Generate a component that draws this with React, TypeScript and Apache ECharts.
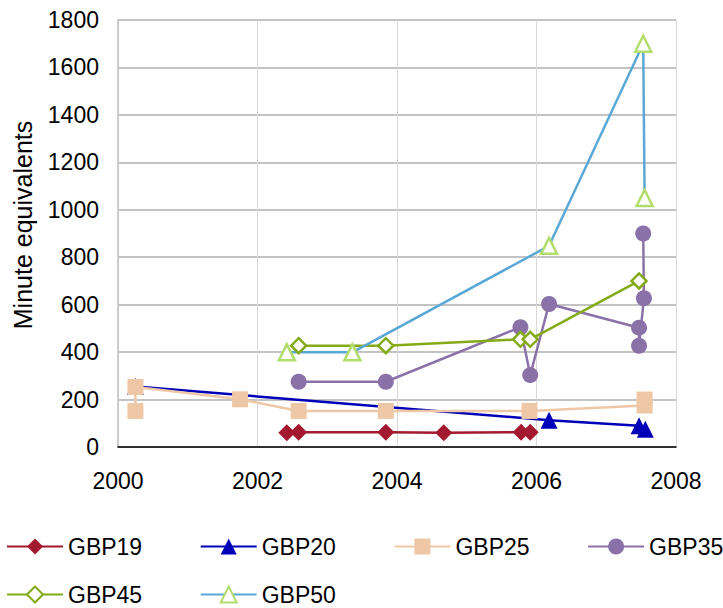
import React, { useEffect, useRef } from "react";
import * as echarts from "echarts";

// [year, minute equivalents]
const gbp19: [number, number][] = [
  [2002.42, 60], [2002.59, 62], [2003.84, 62], [2004.67, 60], [2005.78, 62], [2005.91, 62],
];
const gbp20: [number, number][] = [
  [2000.25, 255], [2006.18, 113], [2007.47, 90], [2007.56, 75],
];
const gbp25: [number, number][] = [
  [2000.25, 152], [2000.25, 253], [2001.75, 201], [2002.59, 152], [2003.84, 152],
  [2005.9, 152], [2007.55, 175], [2007.55, 200],
];
const gbp35: [number, number][] = [
  [2002.59, 275], [2003.84, 275], [2005.77, 505], [2005.91, 303], [2006.18, 603],
  [2007.47, 503], [2007.47, 427], [2007.54, 627], [2007.53, 900],
];
const gbp45: [number, number][] = [
  [2002.59, 427], [2003.84, 427], [2005.77, 454], [2005.91, 454], [2007.47, 700],
];
const gbp50: [number, number][] = [
  [2002.42, 399], [2003.36, 399], [2006.18, 848], [2007.53, 1700], [2007.55, 1050],
];

const seriesNames = ["GBP19", "GBP20", "GBP25", "GBP35", "GBP45", "GBP50"];
const yTitle = "Minute equivalents";

const FONT = "'Liberation Sans', Arial, sans-serif";

export default function App() {
  const ref = useRef<HTMLDivElement>(null);

  useEffect(() => {
    if (!ref.current) return;
    const chart = echarts.init(ref.current, undefined, { renderer: "svg" });

    const line = (
      name: string,
      data: [number, number][],
      color: string,
      symbol: string,
      size: number,
      hollow?: { border: string; width: number }
    ) => ({
      name,
      type: "line",
      data,
      symbol,
      symbolSize: size,
      showAllSymbol: true,
      lineStyle: { color, width: 2.5 },
      itemStyle: hollow
        ? { color: "#ffffff", borderColor: hollow.border, borderWidth: hollow.width }
        : { color },
      emphasis: { disabled: true },
    });

    // one legend block per entry: four per row, two rows
    const legends = seriesNames.map((name, i) => ({
      data: [name],
      left: 6 + (i % 4) * 193.7,
      top: 535 + Math.floor(i / 4) * 48,
      padding: 0,
      itemWidth: 56,
      itemHeight: 20,
      textStyle: { fontFamily: FONT, fontSize: 23, color: "#000" },
    }));

    chart.setOption({
      animation: false,
      backgroundColor: "#ffffff",
      grid: { left: 118, right: 47, top: 20, bottom: 161 },
      legend: legends,
      graphic: [
        {
          type: "text",
          x: 23,
          y: 225,
          rotation: Math.PI / 2,
          style: {
            text: yTitle,
            fontFamily: FONT,
            fontSize: 25,
            fill: "#000",
            align: "center",
            verticalAlign: "middle",
          },
        },
      ],
      xAxis: {
        type: "value",
        min: 2000,
        max: 2008,
        interval: 2,
        axisLine: { show: true, onZero: false, lineStyle: { color: "#000", width: 1.5 } },
        axisTick: { show: false },
        axisLabel: {
          fontFamily: FONT,
          fontSize: 23,
          color: "#000",
          margin: 22,
          formatter: (v: number) => String(v),
        },
        splitLine: { show: true, lineStyle: { color: "#d9d9d9", width: 1 } },
      },
      yAxis: {
        type: "value",
        min: 0,
        max: 1800,
        interval: 200,
        axisLine: { show: true, lineStyle: { color: "#c0c0c0", width: 1.5 } },
        axisTick: { show: false },
        axisLabel: {
          fontFamily: FONT,
          fontSize: 23,
          color: "#000",
          margin: 19,
          formatter: (v: number) => String(v),
        },
        splitLine: { show: true, lineStyle: { color: "#c3c3c3", width: 2 } },
      },
      series: [
        line("GBP19", gbp19, "#a3192f", "diamond", 17),
        line("GBP20", gbp20, "#0000b8", "triangle", 17),
        line("GBP25", gbp25, "#eec8a6", "rect", 16),
        line("GBP35", gbp35, "#8a72a8", "circle", 16),
        line("GBP45", gbp45, "#84aa18", "diamond", 15, { border: "#84aa18", width: 2.5 }),
        line("GBP50", gbp50, "#5aa8d6", "triangle", 16, { border: "#b2dd6c", width: 2.5 }),
      ],
    });

    return () => chart.dispose();
  }, []);

  return (
    <div
      ref={ref}
      style={{ position: "fixed", left: 0, top: 0, width: 723, height: 608, background: "#fff" }}
    />
  );
}
